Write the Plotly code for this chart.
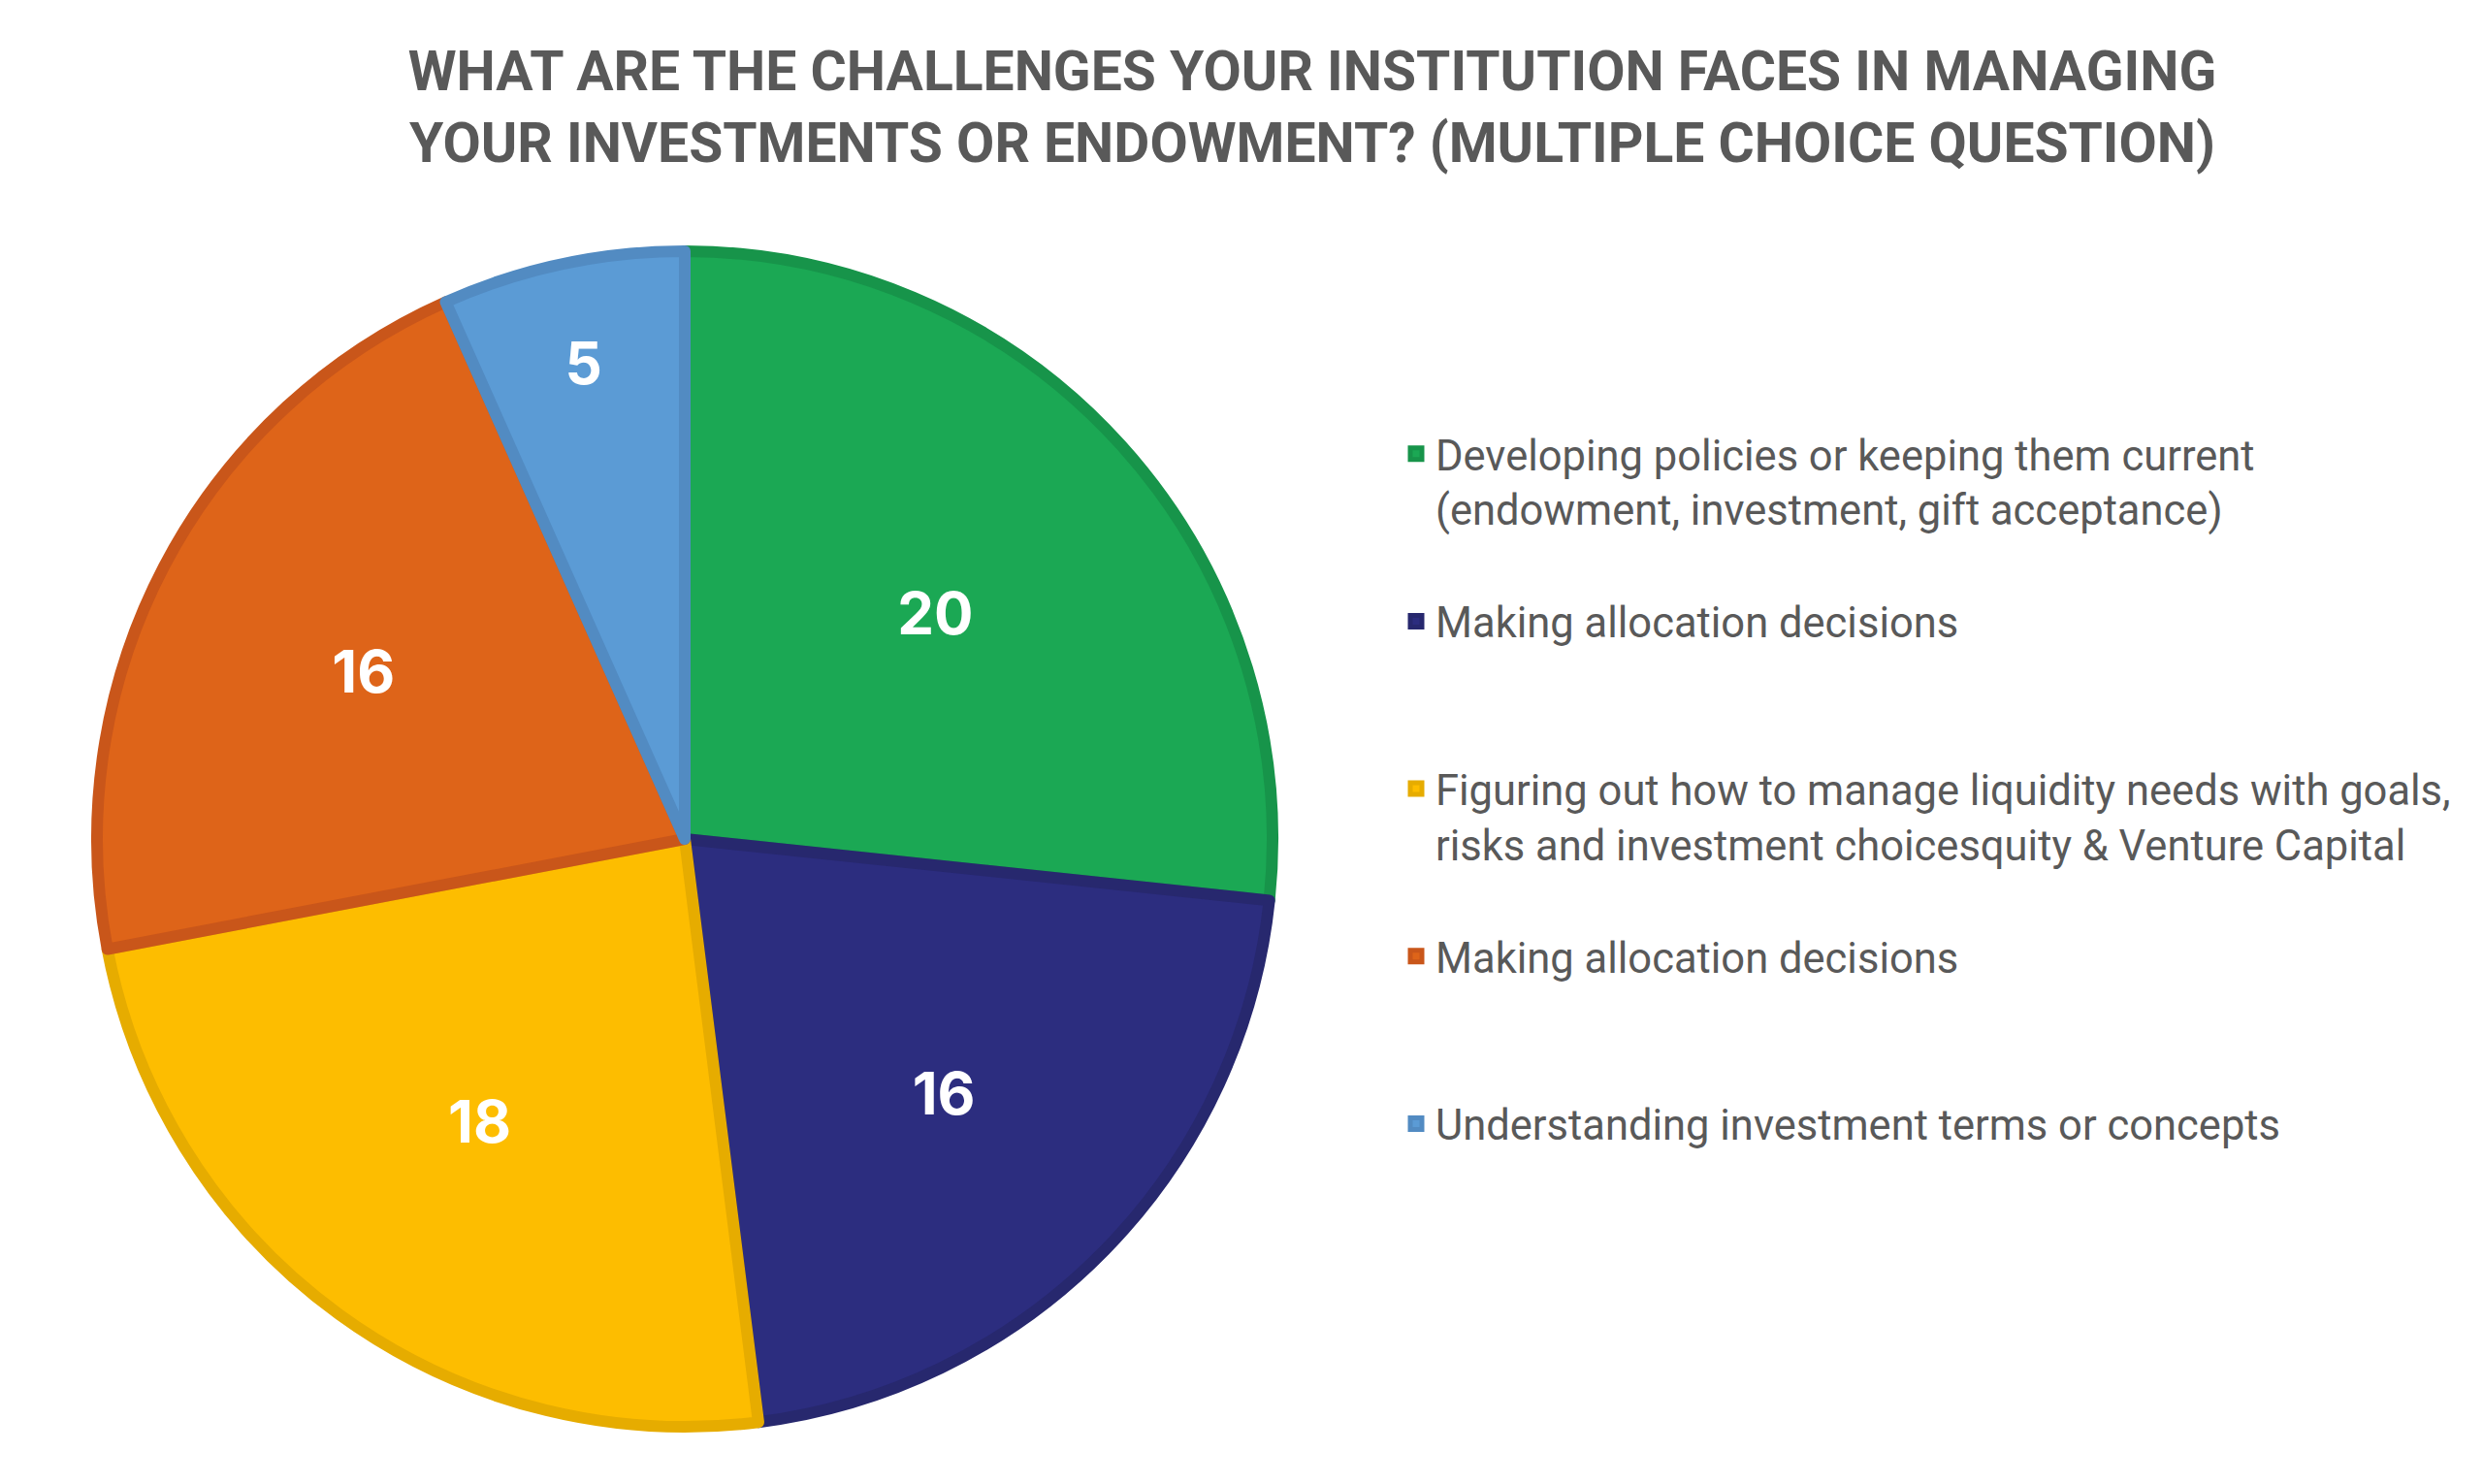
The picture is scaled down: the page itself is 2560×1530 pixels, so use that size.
import plotly.graph_objects as go

# ---- data ----
categories = [
    "Developing policies or keeping them current<br>(endowment, investment, gift acceptance)",
    "Making allocation decisions",
    "Figuring out how to manage liquidity needs with goals,<br>risks and investment choicesquity & Venture Capital",
    "Making allocation decisions",
    "Understanding investment terms or concepts",
]
values = [20, 16, 18, 16, 5]
fill_colors = ["#1BA854", "#2C2D7F", "#FDBD00", "#DE6419", "#5B9BD5"]
edge_colors = ["#17944A", "#27286E", "#E6AC00", "#C9561A", "#528BC2"]
title_lines = [
    "WHAT ARE THE CHALLENGES YOUR INSTITUTION FACES IN MANAGING",
    "YOUR INVESTMENTS OR ENDOWMENT? (MULTIPLE CHOICE QUESTION)",
]

W, H = 2560, 1530
LINES_PER_ENTRY = 3

# legend labels: pad each entry to the same number of lines so entries are evenly spaced;
# repeated categories get an invisible suffix so the pie keeps them as separate slices
legend_labels = []
seen = {}
for c in categories:
    n = c.count("<br>") + 1
    k = seen.get(c, 0)
    seen[c] = k + 1
    lab = c + "\u200b" * k + "<br>\u00a0" * (LINES_PER_ENTRY - n)
    legend_labels.append(lab)

# pie geometry (pixels)
cx, cy, r = 706, 865, 606

fig = go.Figure(
    go.Pie(
        labels=legend_labels,
        values=values,
        sort=False,
        direction="clockwise",
        rotation=0,
        textinfo="value",
        textposition="inside",
        insidetextorientation="horizontal",
        insidetextfont=dict(family="Inter", size=60, color="#FFFFFF", weight=700),
        marker=dict(colors=fill_colors, line=dict(color=edge_colors, width=12)),
        hoverinfo="skip",
        domain=dict(
            x=[(cx - r) / W, (cx + r) / W],
            y=[(H - cy - r) / H, (H - cy + r) / H],
        ),
    )
)

fig.update_layout(
    width=W,
    height=H,
    margin=dict(l=0, r=0, t=0, b=0),
    paper_bgcolor="#FFFFFF",
    plot_bgcolor="#FFFFFF",
    title=dict(
        text="<br>".join(title_lines),
        font=dict(family="Roboto", size=57, color="#595959", weight=700),
        x=1353 / W,
        xanchor="center",
        xref="container",
        y=1 - 93 / H,
        yanchor="top",
        yref="container",
    ),
    legend=dict(
        x=1440 / W,
        xanchor="left",
        y=1 - 433 / H,
        yanchor="top",
        valign="top",
        font=dict(family="Roboto", size=43.5, color="#595959"),
        bgcolor="rgba(0,0,0,0)",
    ),
    showlegend=True,
)

fig.write_html(
    "out.html",
    config={"displayModeBar": False},
    post_script="document.body.style.margin='0px';",
)
